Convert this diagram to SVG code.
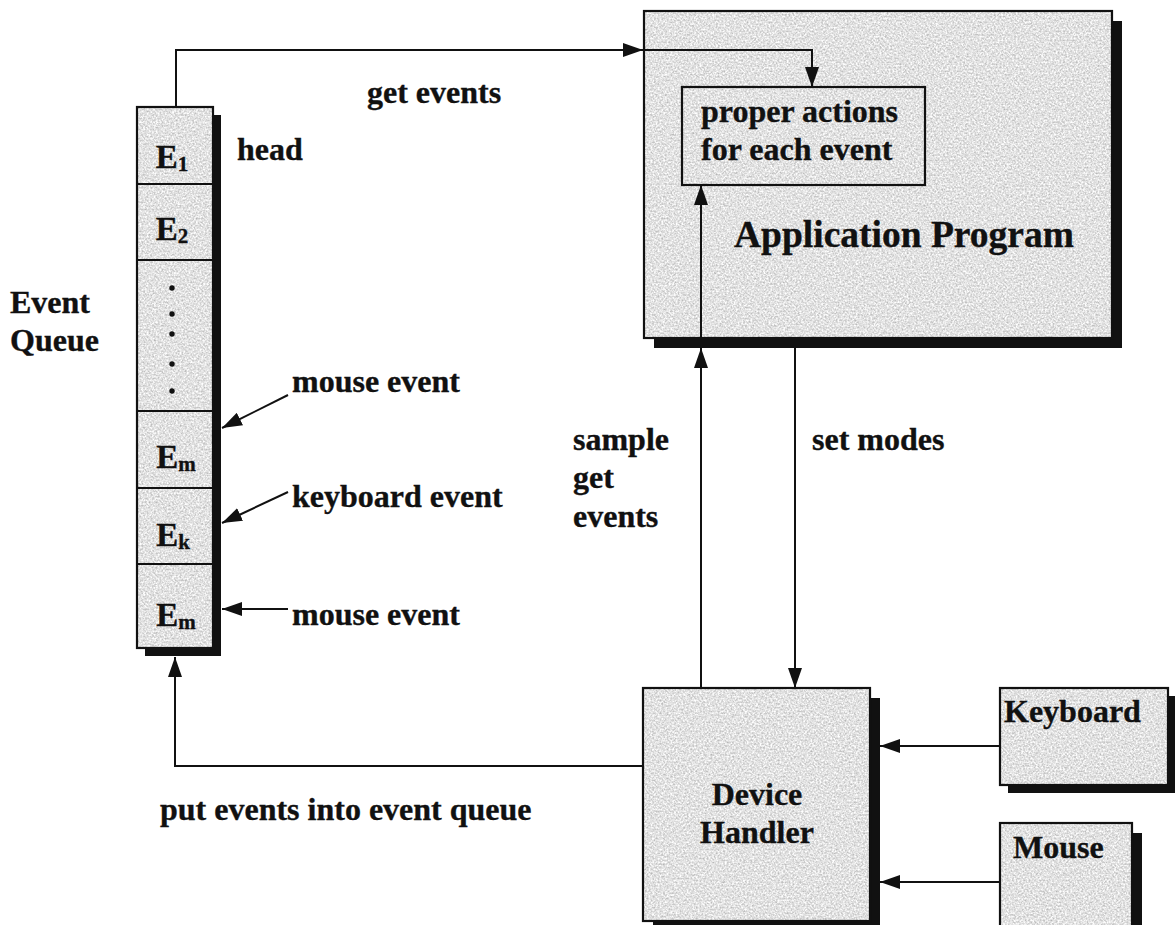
<svg xmlns="http://www.w3.org/2000/svg" width="1175" height="925" viewBox="0 0 1175 925">
  <defs>
    <!-- grainy grey fill used inside the boxes -->
    <filter id="grain" x="0" y="0" width="100%" height="100%" color-interpolation-filters="sRGB">
      <feTurbulence type="fractalNoise" baseFrequency="0.55" numOctaves="2" seed="7" result="noise"/>
      <feColorMatrix in="noise" type="matrix" values="0.45 0 0 0 0.66  0.45 0 0 0 0.66  0.45 0 0 0 0.66  0 0 0 0 1" result="grey"/>
      <feComposite in="grey" in2="SourceGraphic" operator="in"/>
    </filter>
    <marker id="arrow" markerUnits="userSpaceOnUse" markerWidth="20" markerHeight="14" refX="20" refY="7" orient="auto">
      <path d="M0,0 L20,7 L0,14 z" fill="#111"/>
    </marker>
  </defs>
  <style>
    .fill { fill: #ddd; filter: url(#grain); }
    .frame { fill: none; stroke: #111; stroke-width: 2.2; }
    .shadow { fill: #111; }
    .wire { fill: none; stroke: #111; stroke-width: 2; marker-end: url(#arrow); }
    .plain { fill: none; stroke: #111; stroke-width: 2; }
    text { font-family: "Liberation Serif", "Times New Roman", serif; font-weight: bold; fill: #111; stroke: #111; stroke-width: 0.35; font-size: 32px; }
    .big { font-size: 37.5px; }
    .cell { font-size: 33px; }
    .sub { font-size: 21px; }
    .dot { fill: #111; }
  </style>

  <rect x="0" y="0" width="1175" height="925" fill="#fff"/>

  <!-- event queue -->
  <g id="event-queue">
    <rect class="shadow" x="145" y="115" width="76" height="541"/>
    <rect class="fill" x="137" y="107" width="76" height="541"/>
    <rect class="frame" x="137" y="107" width="76" height="541"/>
    <line class="plain" x1="137" y1="184" x2="213" y2="184"/>
    <line class="plain" x1="137" y1="260" x2="213" y2="260"/>
    <line class="plain" x1="137" y1="411" x2="213" y2="411"/>
    <line class="plain" x1="137" y1="488" x2="213" y2="488"/>
    <line class="plain" x1="137" y1="564" x2="213" y2="564"/>
    <text class="cell" x="172" y="168" text-anchor="middle">E<tspan class="sub" dy="3">1</tspan></text>
    <text class="cell" x="172" y="240" text-anchor="middle">E<tspan class="sub" dy="3">2</tspan></text>
    <circle class="dot" cx="172" cy="288" r="2.7"/>
    <circle class="dot" cx="172" cy="314" r="2.7"/>
    <circle class="dot" cx="172" cy="334" r="2.7"/>
    <circle class="dot" cx="172" cy="364" r="2.7"/>
    <circle class="dot" cx="172" cy="391" r="2.7"/>
    <text class="cell" x="176" y="468" text-anchor="middle">E<tspan class="sub" dy="3">m</tspan></text>
    <text class="cell" x="173" y="546" text-anchor="middle">E<tspan class="sub" dy="3">k</tspan></text>
    <text class="cell" x="176" y="626" text-anchor="middle">E<tspan class="sub" dy="3">m</tspan></text>
  </g>
  <g id="event-queue-labels">
    <text x="10" y="313">Event</text>
    <text x="10" y="351">Queue</text>
    <text x="237" y="160">head</text>
  </g>

  <!-- application program -->
  <g id="application-program">
    <rect class="shadow" x="654" y="21" width="468" height="327"/>
    <rect class="fill" x="644" y="11" width="468" height="327"/>
    <rect class="frame" x="644" y="11" width="468" height="327"/>
    <text class="big" x="734" y="247">Application Program</text>
  </g>
  <g id="proper-actions">
    <rect class="fill" x="682" y="87" width="243" height="98"/>
    <rect class="frame" x="682" y="87" width="243" height="98"/>
    <text x="701" y="122">proper actions</text>
    <text x="701" y="160">for each event</text>
  </g>

  <!-- device handler -->
  <g id="device-handler">
    <rect class="shadow" x="653" y="698" width="227" height="233"/>
    <rect class="fill" x="643" y="688" width="227" height="233"/>
    <rect class="frame" x="643" y="688" width="227" height="233"/>
    <text x="757" y="805" text-anchor="middle">Device</text>
    <text x="757" y="843" text-anchor="middle">Handler</text>
  </g>

  <!-- input devices -->
  <g id="keyboard">
    <rect class="shadow" x="1008" y="696" width="168" height="97"/>
    <rect class="fill" x="1000" y="688" width="168" height="97"/>
    <rect class="frame" x="1000" y="688" width="168" height="97"/>
    <text x="1004" y="722">Keyboard</text>
  </g>
  <g id="mouse">
    <rect class="shadow" x="1010" y="833" width="132" height="110"/>
    <rect class="fill" x="1000" y="823" width="132" height="110"/>
    <rect class="frame" x="1000" y="823" width="132" height="110"/>
    <text x="1013" y="858">Mouse</text>
  </g>

  <!-- connectors -->
  <g id="connectors">
    <path class="wire" d="M176,107 V50 H643"/>
    <path class="wire" d="M643,50 H812 V87"/>
    <path class="wire" d="M701,688 V348"/>
    <path class="wire" d="M701,338 V185"/>
    <path class="wire" d="M795,348 V688"/>
    <path class="wire" d="M643,766 H175 V657"/>
    <path class="wire" d="M1000,746 H880"/>
    <path class="wire" d="M1000,882 H880"/>
    <path class="wire" d="M288,395 L222,428"/>
    <path class="wire" d="M288,492 L222,523"/>
    <path class="wire" d="M288,609 H222"/>
  </g>

  <!-- connector labels -->
  <g id="connector-labels">
    <text x="367" y="103">get events</text>
    <text x="573" y="450">sample</text>
    <text x="573" y="488">get</text>
    <text x="573" y="527">events</text>
    <text x="812" y="450">set modes</text>
    <text x="292" y="392">mouse event</text>
    <text x="292" y="507">keyboard event</text>
    <text x="292" y="625">mouse event</text>
    <text x="160" y="820">put events into event queue</text>
  </g>
</svg>
